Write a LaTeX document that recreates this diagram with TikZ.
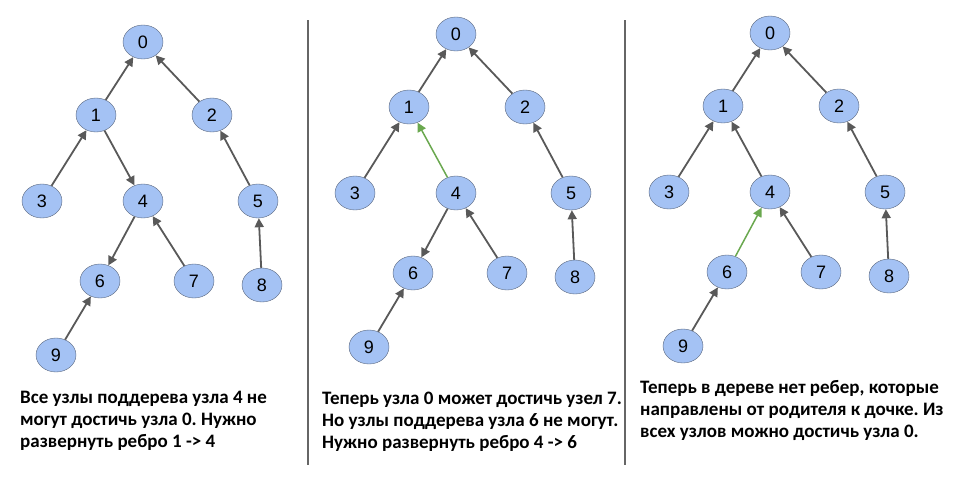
\documentclass[tikz,border=0pt]{standalone}
\usepackage{fontspec}
\setmainfont{Carlito}
\newfontfamily\labelfont{Liberation Sans}
\usetikzlibrary{shapes.geometric,arrows.meta}
\definecolor{vertfill}{HTML}{A4C2F4}
\definecolor{vertline}{HTML}{56637A}
\definecolor{edgegray}{HTML}{595959}
\definecolor{edgegreen}{HTML}{6AA84F}
\tikzset{vert/.style={ellipse,draw=vertline,fill=vertfill,minimum width=40pt,
           minimum height=34pt,inner sep=0pt,font=\labelfont\fontsize{18}{18}\selectfont},
         tedge/.style={draw=edgegray,line width=1.8pt,-{Triangle[length=9pt,width=9pt]}},
         newedge/.style={tedge,draw=edgegreen,line width=1.5pt},
         note/.style={anchor=north west,align=left,inner sep=0pt,
           font=\bfseries\fontsize{19}{22}\selectfont},
         divider/.style={draw=gray!80!black,line width=1.5pt}}
\frenchspacing

\begin{document}
\begin{tikzpicture}[x=1pt,y=-1pt]
\useasboundingbox (0,0) rectangle (953,477);
% the three trees, same layout
\foreach \p/\ox/\oy in {a/143/42,b/456/34,c/770/33}{
 \begin{scope}[shift={(\ox,\oy)}]
  \node [vert] (\p0) at (0,0) {0};
  \node [vert] (\p1) at (-47,73) {1};
  \node [vert] (\p2) at (69,73) {2};
  \node [vert] (\p3) at (-101,159) {3};
  \node [vert] (\p4) at (0,159) {4};
  \node [vert] (\p5) at (115,159) {5};
  \node [vert] (\p6) at (-43,239) {6};
  \node [vert] (\p7) at (51,239) {7};
  \node [vert] (\p8) at (119,243) {8};
  \node [vert] (\p9) at (-87,313) {9};
  \draw [tedge] (\p1) -- (\p0);
  \draw [tedge] (\p2) -- (\p0);
  \draw [tedge] (\p3) -- (\p1);
  \draw [tedge] (\p5) -- (\p2);
  \draw [tedge] (\p7) -- (\p4);
  \draw [tedge] (\p8) -- (\p5);
  \draw [tedge] (\p9) -- (\p6);
 \end{scope}}
% edges that change
\draw [tedge] (a1) -- (a4);
\draw [tedge] (a4) -- (a6);
\draw [newedge] (b4) -- (b1);
\draw [tedge] (b4) -- (b6);
\draw [tedge] (c4) -- (c1);
\draw [newedge] (c6) -- (c4);
% dividers
\coordinate (d1t) at (308,20);
\coordinate (d1b) at (308,465);
\coordinate (d2t) at (625,20);
\coordinate (d2b) at (625,465);
\draw [divider] (d1t) -- (d1b);
\draw [divider] (d2t) -- (d2b);
% captions
\node [note] (capa) at (20,391) {Все узлы поддерева узла 4 не\\могут достичь узла 0. Нужно\\развернуть ребро 1 -> 4};
\node [note] (capb) at (322,392) {Теперь узла 0 может достичь узел 7.\\Но узлы поддерева узла 6 не могут.\\Нужно развернуть ребро 4 -> 6};
\node [note] (capc) at (640,380) {Теперь в дереве нет ребер, которые\\направлены от родителя к дочке. Из\\всех узлов можно достичь узла 0.};
\end{tikzpicture}
\end{document}
